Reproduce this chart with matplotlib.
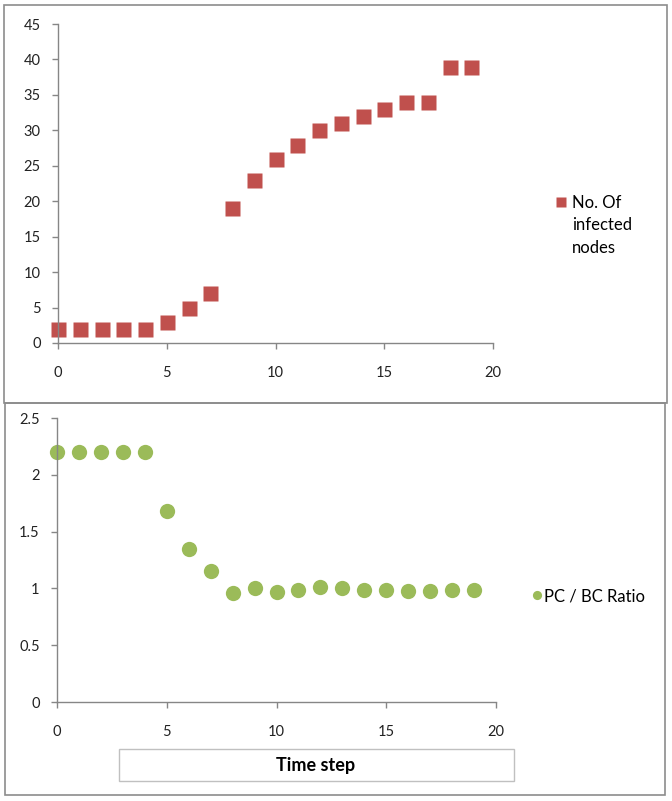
import matplotlib
matplotlib.use("Agg")
import matplotlib.pyplot as plt
import numpy as np
from matplotlib.patches import Rectangle
from matplotlib.ticker import FuncFormatter

plt.rcParams['font.family'] = ['Lato', 'DejaVu Sans']

# data
time_step = list(range(20))
infected = [2, 2, 2, 2, 2, 3, 5, 7, 19, 23, 26, 28, 30, 31, 32, 33, 34, 34, 39, 39]
pc_bc = [2.2, 2.2, 2.2, 2.2, 2.2, 1.68, 1.35, 1.15, 0.96, 1.0, 0.97, 0.99,
         1.01, 1.0, 0.99, 0.99, 0.98, 0.98, 0.99, 0.99]
x_ticks = [0, 5, 10, 15, 20]
top_yticks = list(range(0, 50, 5))
bot_yticks = [0, 0.5, 1, 1.5, 2, 2.5]

RED = '#C0504D'
GREEN = '#9BBB59'
AXC = '#868686'
TXT = '#222222'
W, H = 672, 801


def fx(px):
    return px / W


def fy(py):
    return 1 - py / H


fig = plt.figure(figsize=(6.72, 8.01), dpi=100)

ax1 = fig.add_axes([fx(58), fy(343), fx(493 - 58), (343 - 24) / H])
ax2 = fig.add_axes([fx(57), fy(702), fx(496 - 57), (702 - 418) / H])

ax1.plot(time_step, infected, 's', color=RED, ms=10.8, mec='none',
         clip_on=False, label='No. Of')
ax2.plot(time_step, pc_bc, 'o', color=GREEN, ms=11, mec='none',
         clip_on=False, label='PC / BC Ratio')

for ax, yt, ylim in [(ax1, top_yticks, 45), (ax2, bot_yticks, 2.5)]:
    ax.set_xlim(0, 20)
    ax.set_ylim(0, ylim)
    ax.set_xticks(x_ticks)
    ax.set_yticks(yt)
    ax.yaxis.set_major_formatter(FuncFormatter(lambda v, p: '%g' % v))
    for s in ['top', 'right']:
        ax.spines[s].set_visible(False)
    for s in ['left', 'bottom']:
        ax.spines[s].set_color(AXC)
        ax.spines[s].set_linewidth(1)
    ax.tick_params(axis='both', direction='out', color=AXC, width=1,
                   length=4.5, labelsize=10.5, labelcolor=TXT)
    ax.tick_params(axis='x', pad=12)
    ax.tick_params(axis='y', pad=8)
    ax.patch.set_visible(False)

leg1 = ax1.legend(loc='center left', bbox_to_anchor=(fx(555), fy(203)),
                  bbox_transform=fig.transFigure, frameon=False,
                  borderpad=0, borderaxespad=0, handlelength=0.75,
                  handletextpad=0.25, markerscale=0.65, fontsize=12)
# rest of the legend label, under its first line (drawn after the legend)
ax1.annotate('infected\nnodes', xy=(0, 0), xycoords=leg1.texts[0],
             xytext=(0, -4), textcoords='offset points', va='top', ha='left',
             fontsize=12, linespacing=1.6, color='black', zorder=10)

ax2.legend(loc='center left', bbox_to_anchor=(fx(532), fy(596)),
           bbox_transform=fig.transFigure, frameon=False,
           borderpad=0, borderaxespad=0, handlelength=0.65,
           handletextpad=0.05, markerscale=0.6, fontsize=12)

# panel frames
fig.add_artist(Rectangle((fx(4), fy(403)), fx(667 - 4), (403 - 5) / H,
                         transform=fig.transFigure, fill=False, ec='#8c8c8c', lw=1.2))
fig.add_artist(Rectangle((fx(5), fy(795)), fx(665 - 5), (795 - 403) / H,
                         transform=fig.transFigure, fill=False, ec='#8c8c8c', lw=1.2))

# axis title box
fig.add_artist(Rectangle((fx(119), fy(781)), fx(514 - 119), (781 - 749) / H,
                         transform=fig.transFigure, fill=False, ec='#c0c0c0', lw=1))
fig.text(fx(316), fy(765), 'Time step', ha='center', va='center',
         fontsize=13, fontweight='bold', color='black')

fig.savefig('out.png', dpi=100)
